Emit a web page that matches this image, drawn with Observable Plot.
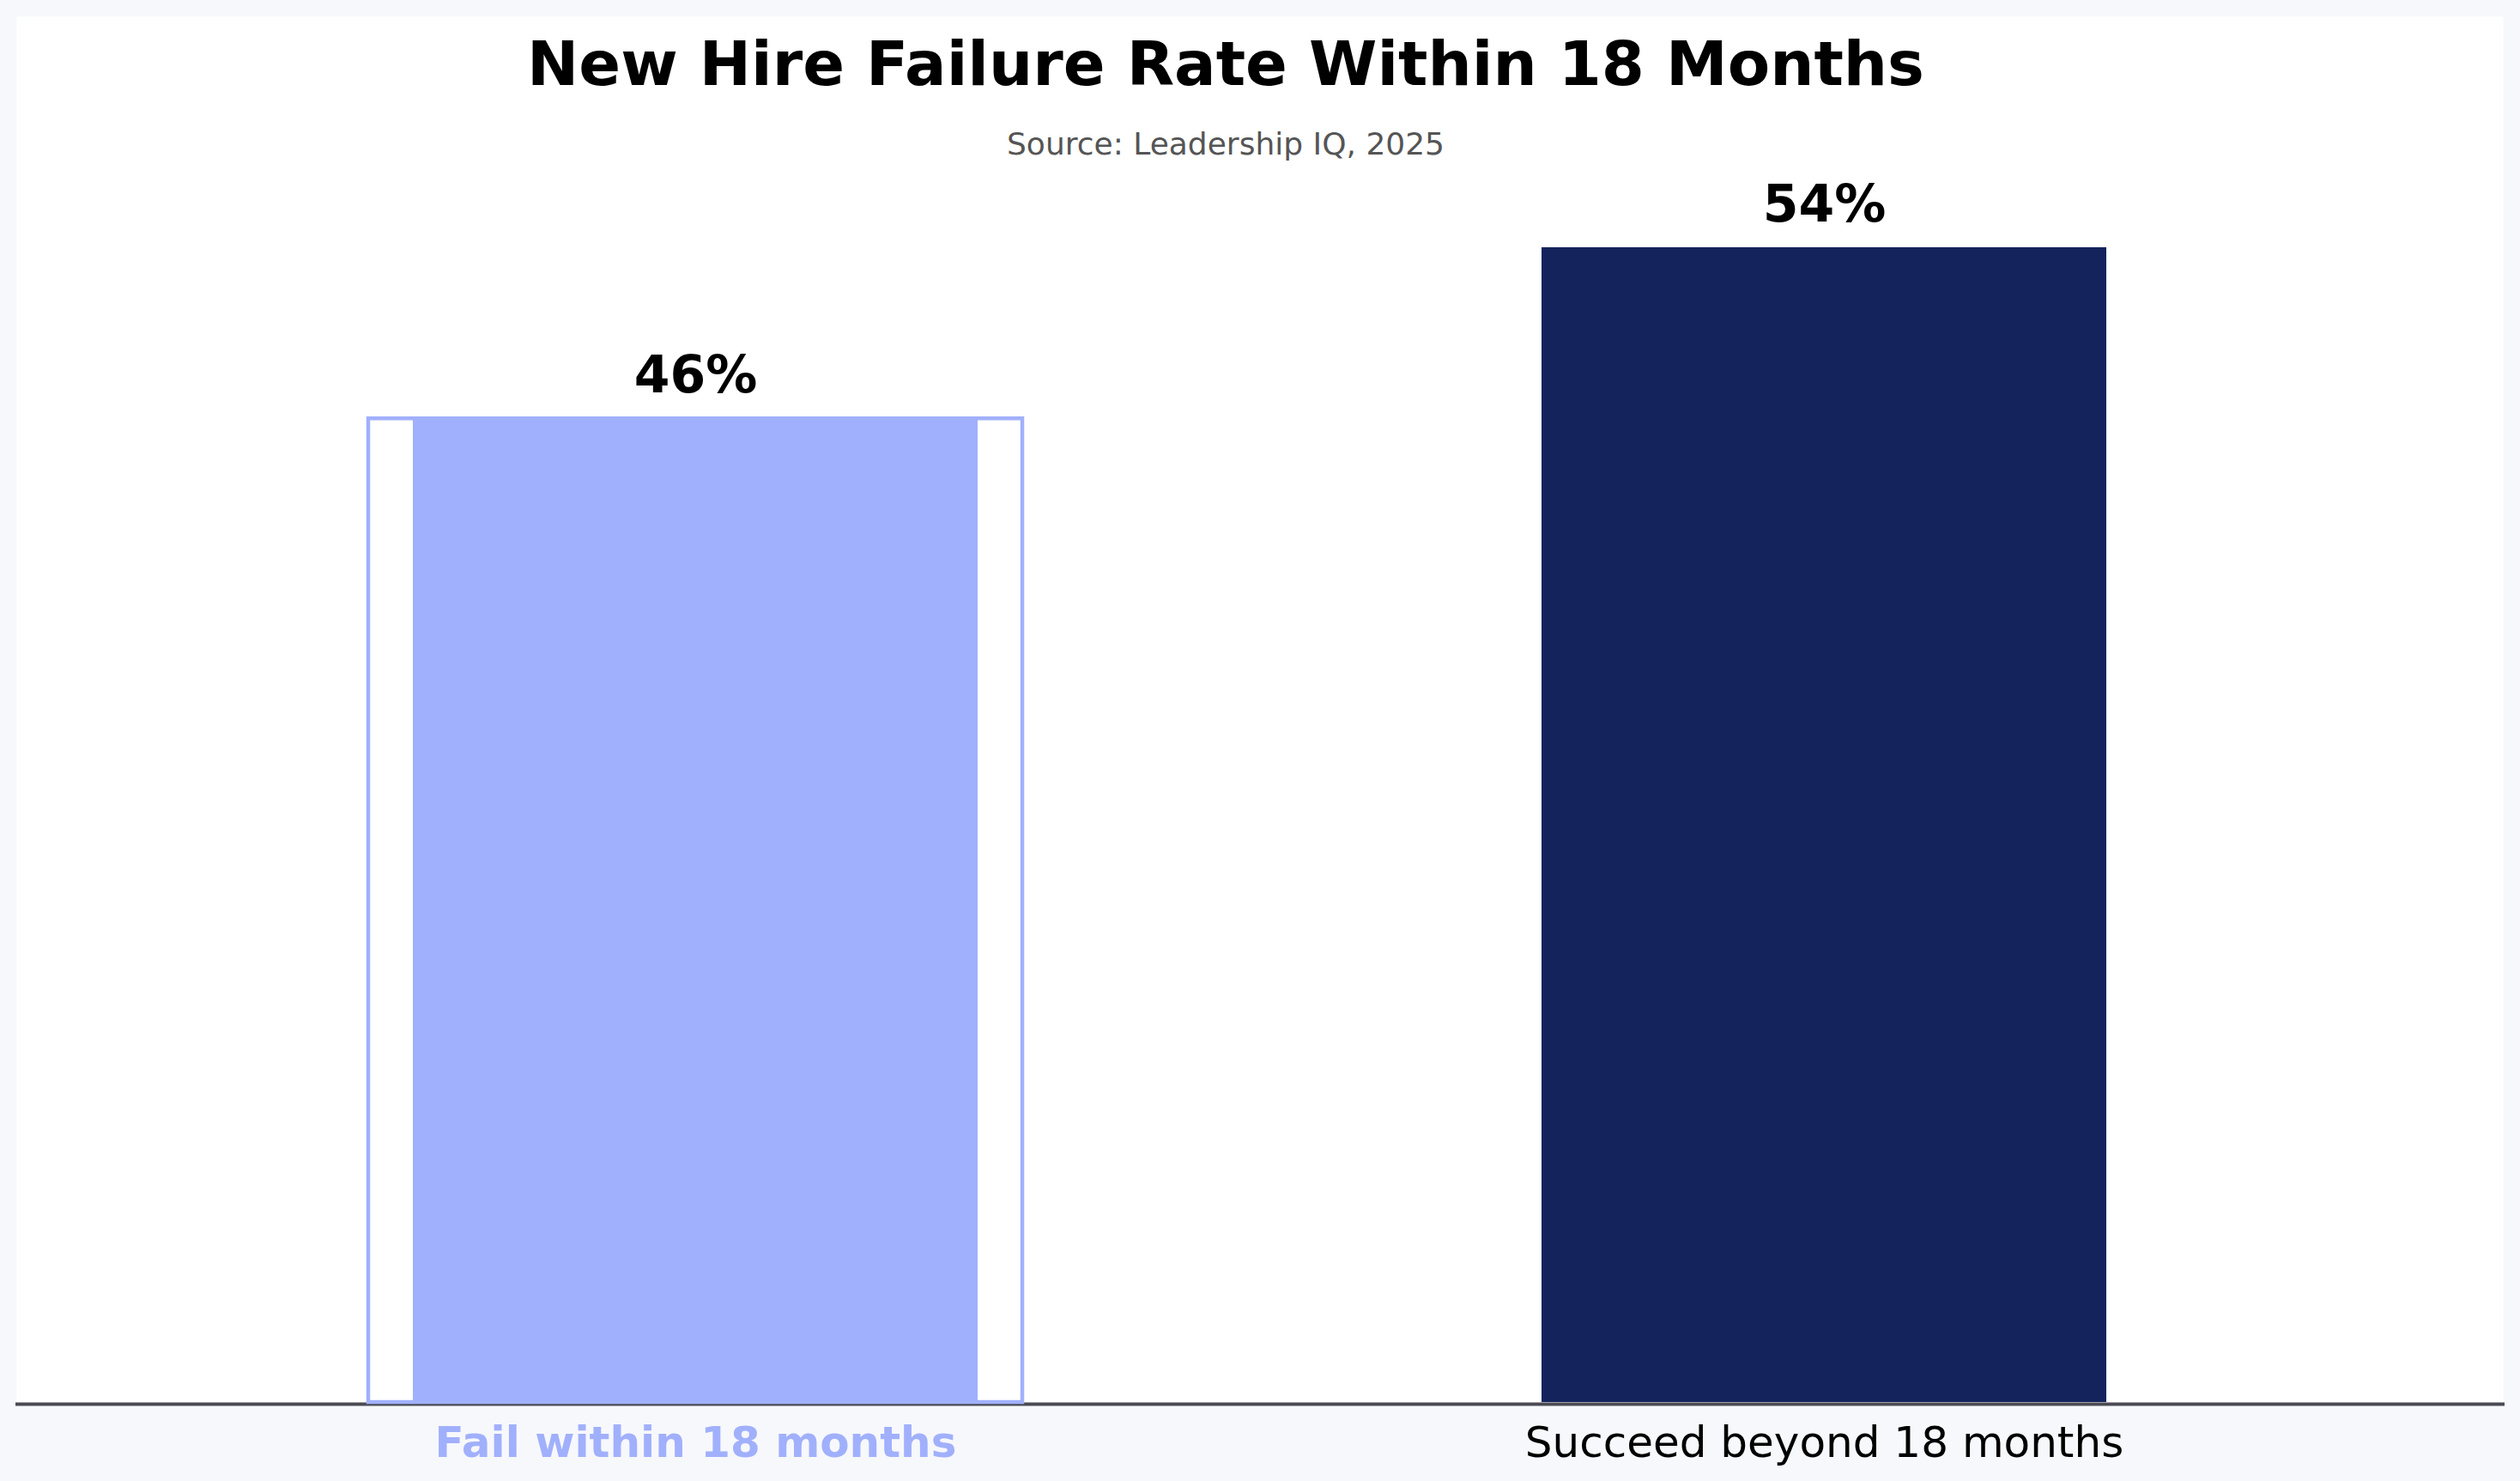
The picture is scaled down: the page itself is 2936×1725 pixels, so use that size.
<!DOCTYPE html>
<html>
<head>
<meta charset="utf-8">
<script src="https://cdn.jsdelivr.net/npm/d3@7"></script>
<script src="https://cdn.jsdelivr.net/npm/@observablehq/plot@0.6"></script>
<style>
  html, body { margin: 0; padding: 0; background: #f7f8fc; }
  #chart { width: 2936px; height: 1725px; }
</style>
</head>
<body>
<div id="chart"></div>
<script>
const title = "New Hire Failure Rate Within 18 Months";
const subtitle = "Source: Leadership IQ, 2025";
const categories = ["Fail within 18 months", "Succeed beyond 18 months"];
const values = [46, 54];
const valueLabels = ["46%", "54%"];
const barColors = ["#a1b0fc", "#14235c"];
const highlighted = "Fail within 18 months";

const data = categories.map((c, i) => ({category: c, value: values[i], label: valueLabels[i]}));
const hl = data.filter(d => d.category === highlighted);
const others = data.filter(d => d.category !== highlighted);

const font = "DejaVu Sans, Verdana, sans-serif";

const chart = Plot.plot({
  width: 2936,
  height: 1725,
  marginLeft: 19,
  marginRight: 20,
  marginTop: 19,
  marginBottom: 92,
  style: {background: "transparent", fontFamily: font},
  x: {type: "band", domain: categories, paddingInner: 0.5, paddingOuter: 0.3515, axis: null},
  y: {domain: [0, 64.8], axis: null},
  color: {domain: categories, range: barColors},
  marks: [
    Plot.frame({fill: "white", stroke: "none"}),
    Plot.ruleY([0], {stroke: "#4b4b53", strokeWidth: 4, dy: 2, insetLeft: -1, insetRight: -2}),
    Plot.barY(data, {x: "category", y: "value", fill: "category"}),
    Plot.barY(hl, {x: "category", y: "value", fill: "none", stroke: barColors[0], strokeWidth: 4.5, insetLeft: -52, insetRight: -52}),
    Plot.text(data, {x: "category", y: "value", text: "label", lineAnchor: "bottom", dy: -31, fontSize: 60, fontWeight: "bold", fill: "#000"}),
    Plot.text(hl, {x: "category", text: "category", frameAnchor: "bottom", lineAnchor: "bottom", dy: 63, fontSize: 50, fontWeight: "bold", fill: barColors[0]}),
    Plot.text(others, {x: "category", text: "category", frameAnchor: "bottom", lineAnchor: "bottom", dy: 63, fontSize: 50, fill: "#000"}),
    Plot.text([title], {frameAnchor: "top", text: d => d, lineAnchor: "bottom", dx: -40, dy: 79, fontSize: 72, fontWeight: "bold", fill: "#000"}),
    Plot.text([subtitle], {frameAnchor: "top", text: d => d, lineAnchor: "bottom", dx: -40, dy: 160, fontSize: 36, fill: "#555555"})
  ]
});
document.getElementById("chart").appendChild(chart);
</script>
</body>
</html>
